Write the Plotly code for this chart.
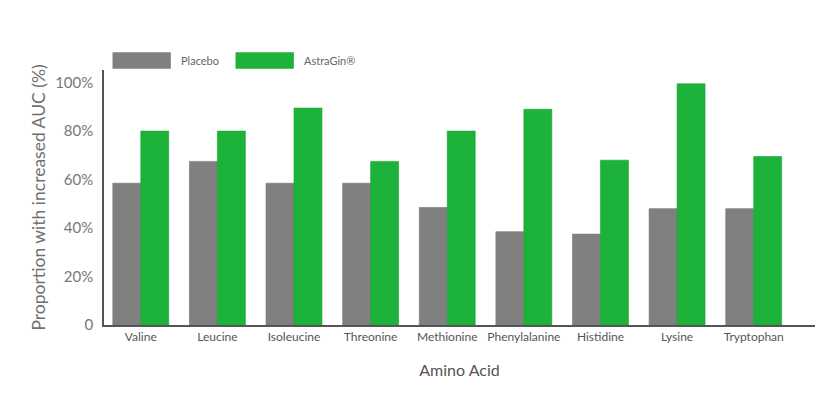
import plotly.graph_objects as go

amino_acids = ["Valine", "Leucine", "Isoleucine", "Threonine", "Methionine",
               "Phenylalanine", "Histidine", "Lysine", "Tryptophan"]
placebo = [58.5, 67.5, 58.5, 58.5, 48.5, 38.5, 37.5, 48, 48]
astragin = [80, 80, 89.5, 67.5, 80, 89, 68, 99.5, 69.5]
series_names = ["Placebo", "AstraGin®"]
y_ticks = [0, 20, 40, 60, 80, 100]
y_tick_labels = ["0", "20%", "40%", "60%", "80%", "100%"]

grey = "#808080"
green = "#1db23a"
font = "Lato"

fig = go.Figure()
fig.add_trace(go.Bar(x=amino_acids, y=placebo, name=series_names[0],
                     marker=dict(color=grey, line=dict(color="#737373", width=0.6))))
fig.add_trace(go.Bar(x=amino_acids, y=astragin, name=series_names[1],
                     marker=dict(color=green, line=dict(color="#18a533", width=0.6))))

# legend drawn by hand: wide swatches like the original
swatch_x = [0.012, 0.185]
for i, (name, col) in enumerate(zip(series_names, [grey, green])):
    x0 = swatch_x[i]
    fig.add_shape(type="rect", xref="paper", yref="paper",
                  x0=x0, x1=x0 + 0.082, y0=1.005, y1=1.07,
                  fillcolor=col, line=dict(width=0))
    fig.add_annotation(xref="paper", yref="paper", x=x0 + 0.094, y=1.037,
                       text=name, showarrow=False, xanchor="left", yanchor="middle",
                       font=dict(family=font, size=11, color="#666666"))

# the page adds an 8px body margin, so margins are shifted to compensate
fig.update_layout(
    width=840, height=414,
    margin=dict(l=96, r=33, t=62, b=97),
    paper_bgcolor="white", plot_bgcolor="white",
    barmode="group", bargap=0.27, bargroupgap=0,
    showlegend=False,
    font=dict(family=font, color="#666666"),
)
fig.update_xaxes(
    range=[-0.48, 8.8], showline=True, linecolor="#555555", linewidth=1.5,
    showgrid=False, ticks="", ticklabelstandoff=0,
    tickfont=dict(size=12, color="#555555"),
    title=dict(text="Amino Acid", font=dict(size=16, color="#555555"), standoff=22),
)
fig.update_yaxes(
    range=[0, 105.2], showline=True, linecolor="#555555", linewidth=1.5,
    showgrid=False, zeroline=False, ticks="", ticklabelstandoff=6,
    tickvals=y_ticks, ticktext=y_tick_labels,
    tickfont=dict(size=15, color="#777777"),
    title=dict(text="Proportion with increased AUC (%)",
               font=dict(size=17.5, color="#707070"), standoff=5),
)

fig.write_html("out.html")
